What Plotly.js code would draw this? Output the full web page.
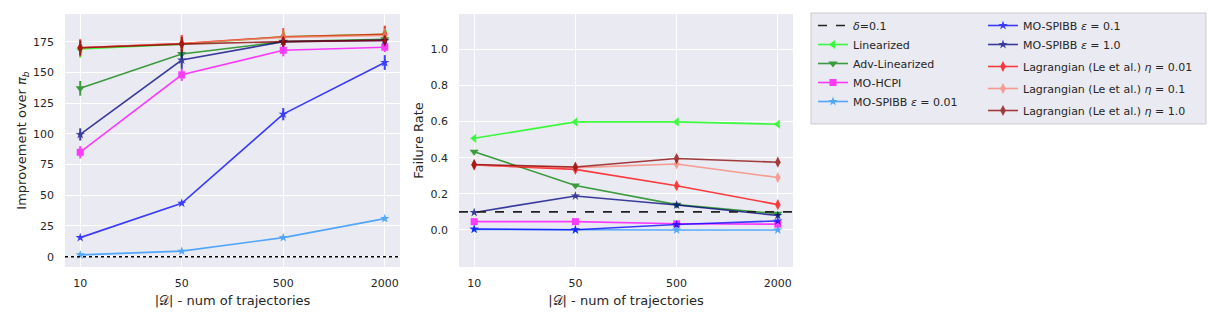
<!DOCTYPE html>
<html>
<head>
<meta charset="utf-8">
<script src="https://cdn.plot.ly/plotly-3.0.1.min.js"></script>
<style>
  body { margin: 0; background: #fff; }
  #chart { width: 1224px; height: 324px; }
</style>
</head>
<body>
<div id="chart"></div>
<script>
// dataset sizes (x categories)
const sizes = ['10', '50', '500', '2000'];

const names = [
    'Linearized',
    'Adv-Linearized',
    'MO-HCPI',
    'MO-SPIBB <i>ε</i> = 0.01',
    'MO-SPIBB <i>ε</i> = 0.1',
    'MO-SPIBB <i>ε</i> = 1.0',
    'Lagrangian (Le et al.) <i>η</i> = 0.01',
    'Lagrangian (Le et al.) <i>η</i> = 0.1',
    'Lagrangian (Le et al.) <i>η</i> = 1.0'
];
const colors = ['#00ff00', '#008000', '#ff00ff', '#1e90ff', '#0000ff', '#000080', '#ff0000', '#fa8072', '#8b0000'];
const symbols = ['triangle-left', 'triangle-down', 'square', 'star', 'star', 'star', 'diamond-tall', 'diamond-tall', 'diamond-tall'];

// improvement over pi_b
const impLinearized = [169, 173, 179, 181];
const impAdvLinearized = [137, 165, 175, 177];
const impHCPI = [85, 148, 168, 170.5];
const impSpibb001 = [1.5, 4.5, 15.5, 31];
const impSpibb01 = [15.5, 43.5, 116, 158];
const impSpibb1 = [99.5, 160, 175, 176];
const impLag001 = [170, 173.5, 179, 181];
const impLag01 = [170, 173.5, 178.5, 180];
const impLag1 = [170, 173, 175, 176];

const impErrLinearized = [7, 5, 5, 6];
const impErrAdvLinearized = [6, 4, 4, 6];
const impErrHCPI = [5, 5, 5, 4];
const impErrSpibb001 = [1, 1, 1, 1.5];
const impErrSpibb01 = [1, 1.5, 5, 6];
const impErrSpibb1 = [5, 7, 3, 3];
const impErrLag001 = [7, 7, 7, 7];
const impErrLag01 = [6, 6, 6, 6];
const impErrLag1 = [6, 6, 4, 4];

// failure rate
const failLinearized = [0.507, 0.598, 0.598, 0.585];
const failAdvLinearized = [0.433, 0.246, 0.14, 0.09];
const failHCPI = [0.046, 0.046, 0.034, 0.032];
const failSpibb001 = [0.003, 0.0, 0.0, 0.0];
const failSpibb01 = [0.005, 0.001, 0.03, 0.05];
const failSpibb1 = [0.097, 0.188, 0.138, 0.08];
const failLag001 = [0.36, 0.335, 0.245, 0.14];
const failLag01 = [0.36, 0.345, 0.365, 0.29];
const failLag1 = [0.362, 0.348, 0.395, 0.375];

const failErr = [0.008, 0.008, 0.008, 0.008];

const delta = 0.1;
const impTicks = [0, 25, 50, 75, 100, 125, 150, 175];
const failTicks = [0, 0.2, 0.4, 0.6, 0.8, 1.0];

const impSeries = [impLinearized, impAdvLinearized, impHCPI, impSpibb001, impSpibb01, impSpibb1, impLag001, impLag01, impLag1];
const impErrs = [impErrLinearized, impErrAdvLinearized, impErrHCPI, impErrSpibb001, impErrSpibb01, impErrSpibb1, impErrLag001, impErrLag01, impErrLag1];
const failSeries = [failLinearized, failAdvLinearized, failHCPI, failSpibb001, failSpibb01, failSpibb1, failLag001, failLag01, failLag1];

// second legend column: the two SPIBB rows share a group, each Lagrangian row gets its own
const legend2Groups = ['', '', '', '', 'spibb', 'spibb', 'lag1', 'lag2', 'lag3'];

const data = [];
names.forEach((name, i) => {
    const sz = symbols[i] === 'star' ? 7 : (symbols[i] === 'square' ? 7 : 8);
    const common = {
        x: sizes,
        mode: 'lines+markers',
        name: name,
        opacity: 0.75,
        line: {color: colors[i], width: 1.6},
        marker: {color: colors[i], symbol: symbols[i], size: sz}
    };
    const imp = Object.assign({}, common, {
        y: impSeries[i],
        error_y: {type: 'data', array: impErrs[i], color: colors[i], thickness: 2, width: 0},
        xaxis: 'x', yaxis: 'y',
        legend: i < 4 ? 'legend' : 'legend2',
        legendrank: i + 2,
        showlegend: true
    });
    if (i >= 4) imp.legendgroup = legend2Groups[i];
    data.push(imp);
    data.push(Object.assign({}, common, {
        y: failSeries[i],
        error_y: {type: 'data', array: failErr, color: colors[i], thickness: 2, width: 0},
        xaxis: 'x2', yaxis: 'y2',
        showlegend: false
    }));
});

const tickFont = {family: 'DejaVu Sans', size: 11, color: '#262626'};
const titleFont = {family: 'DejaVu Sans', size: 13, color: '#262626'};

const xCommon = {
    type: 'category',
    range: [-0.15, 3.15],
    showgrid: true,
    gridcolor: '#ffffff',
    gridwidth: 1,
    zeroline: false,
    showline: false,
    ticks: '',
    ticklabelstandoff: 8,
    tickfont: tickFont,
    title: {text: '|𝒟| - num of trajectories', font: titleFont, standoff: 6}
};

const layout = {
    width: 1224,
    height: 324,
    margin: {l: 0, r: 0, t: 0, b: 0},
    paper_bgcolor: '#ffffff',
    plot_bgcolor: '#eaeaf2',
    font: {family: 'DejaVu Sans', color: '#262626'},
    xaxis: Object.assign({}, xCommon, {domain: [65 / 1224, 400 / 1224], anchor: 'y'}),
    xaxis2: Object.assign({}, xCommon, {domain: [459 / 1224, 793 / 1224], anchor: 'y2'}),
    yaxis: {
        domain: [57 / 324, 310 / 324],
        range: [-8.4, 197.5],
        tickvals: impTicks,
        gridcolor: '#ffffff',
        zeroline: false,
        ticks: '',
        ticklabelstandoff: 10,
        tickfont: tickFont,
        title: {text: 'Improvement over <i>π</i><sub><i>b</i></sub>', font: titleFont}
    },
    yaxis2: {
        domain: [57 / 324, 310 / 324],
        range: [-0.205, 1.195],
        tickvals: failTicks,
        tickformat: '.1f',
        gridcolor: '#ffffff',
        zeroline: false,
        ticks: '',
        ticklabelstandoff: 10,
        tickfont: tickFont,
        anchor: 'x2',
        title: {text: 'Failure Rate', font: titleFont}
    },
    shapes: [
        {
            type: 'line', xref: 'x domain', yref: 'y', x0: 0, x1: 1, y0: 0, y1: 0,
            line: {color: '#000000', width: 1.5, dash: 'dot'}, layer: 'above'
        },
        {
            type: 'line', xref: 'x2 domain', yref: 'y2', x0: 0, x1: 1, y0: delta, y1: delta,
            line: {color: '#222222', width: 1.6, dash: 'dash'}, layer: 'above',
            showlegend: true, name: '<i>δ</i>=0.1', legend: 'legend', legendrank: 1
        },
        {
            type: 'rect', xref: 'paper', yref: 'paper',
            x0: 811 / 1224, x1: 1206 / 1224, y0: 1 - 124 / 324, y1: 1 - 13 / 324,
            fillcolor: '#eaeaf2', line: {color: '#cccccc', width: 1}, layer: 'below'
        }
    ],
    legend: {
        x: 813 / 1224, y: 1 - 11 / 324, xanchor: 'left', yanchor: 'top',
        bgcolor: 'rgba(0,0,0,0)',
        font: {family: 'DejaVu Sans', size: 11, color: '#262626'},
        traceorder: 'normal'
    },
    legend2: {
        x: 983 / 1224, y: 1 - 11 / 324, xanchor: 'left', yanchor: 'top',
        bgcolor: 'rgba(0,0,0,0)',
        font: {family: 'DejaVu Sans', size: 11, color: '#262626'},
        traceorder: 'grouped',
        tracegroupgap: 3
    },
    showlegend: true
};

Plotly.newPlot('chart', data, layout, {displayModeBar: false});
</script>
</body>
</html>
